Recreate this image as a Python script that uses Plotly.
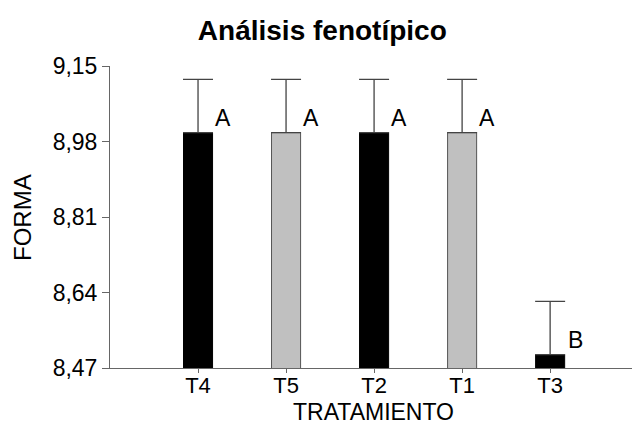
import plotly.graph_objects as go

categories = ["T4", "T5", "T2", "T1", "T3"]
values = [9.00, 9.00, 9.00, 9.00, 8.50]
errors = [0.12, 0.12, 0.12, 0.12, 0.12]
letters = ["A", "A", "A", "A", "B"]
bar_colors = ["#000000", "#c0c0c0", "#000000", "#c0c0c0", "#000000"]
line_colors = ["#000000", "#555555", "#000000", "#555555", "#000000"]
y_ticks = [8.47, 8.64, 8.81, 8.98, 9.15]

FONT = "Arial, Liberation Sans, sans-serif"

fig = go.Figure()
fig.add_trace(go.Bar(
    x=categories, y=values,
    width=0.33,
    marker=dict(color=bar_colors, line=dict(color=line_colors, width=1)),
    error_y=dict(type="data", array=errors, arrayminus=[0] * len(errors),
                 symmetric=False, color="#444444", thickness=1.3, width=15),
    showlegend=False,
))

for c, v, e, l in zip(categories, values, errors, letters):
    fig.add_annotation(x=c, y=v, text=l, showarrow=False, xshift=25, yshift=15,
                       xanchor="center", yanchor="middle",
                       font=dict(family=FONT, size=23, color="#000"))

fig.add_annotation(xref="paper", yref="paper", x=-0.1686, y=0.5, text="FORMA",
                   textangle=-90, showarrow=False, xanchor="center", yanchor="middle",
                   font=dict(family=FONT, size=24, color="#000"))
fig.add_annotation(xref="paper", yref="paper", x=0.504, y=-0.146, text="TRATAMIENTO",
                   showarrow=False, xanchor="center", yanchor="middle", borderpad=0,
                   font=dict(family=FONT, size=23, color="#000"))

fig.update_layout(
    width=632, height=425,
    margin=dict(l=110, r=0, t=66, b=57),
    paper_bgcolor="white", plot_bgcolor="white",
    separators=",.",
    title=dict(text="<b>Análisis fenotípico</b>", x=0.51, xref="container", xanchor="center",
               y=1 - 30 / 425, yref="container", yanchor="middle",
               font=dict(family=FONT, size=28, color="#000")),
    font=dict(family=FONT, size=23, color="#000"),
    xaxis=dict(range=[-1, 4.93], showline=True, linecolor="#666666", linewidth=1,
               ticks="outside", ticklen=4, tickcolor="#666666", showgrid=False,
               ticklabelstandoff=-6,
               tickfont=dict(family=FONT, size=22, color="#000")),
    yaxis=dict(range=[8.47, 9.15], tickvals=y_ticks, tickformat=".2f",
               showline=True, linecolor="#666666", linewidth=1,
               ticks="outside", ticklen=7, tickcolor="#666666", showgrid=False,
               zeroline=False,
               tickfont=dict(family=FONT, size=23, color="#000")),
)

fig.write_html("out.html", config={"displayModeBar": False},
               post_script="document.body.style.margin='0';document.body.style.padding='0';")
